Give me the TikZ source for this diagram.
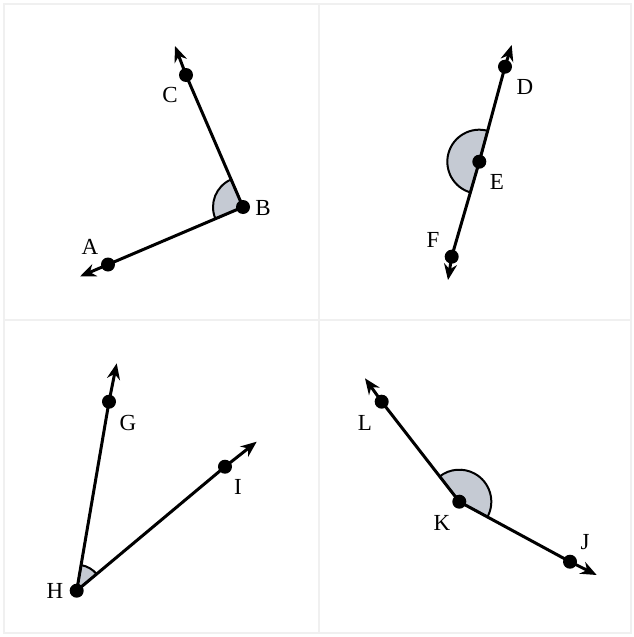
\documentclass[tikz,border=0pt]{standalone}
\usepackage{fontspec}
\setmainfont{Liberation Serif}
\usetikzlibrary{arrows.meta,calc}
\definecolor{anglefill}{HTML}{C5CAD3}
\definecolor{gridline}{HTML}{F0F0F0}
\begin{document}
\begin{tikzpicture}[x=1pt,y=-1pt,
  pt/.style={circle,fill=black,inner sep=0pt,minimum size=14pt},
  ray/.style={line width=3pt,-{Stealth[length=16pt,width=13pt]}},
  seg/.style={line width=3pt},
  ang/.style={fill=anglefill,draw=black,line width=2pt},
  lbl/.style={font=\fontsize{23}{26}\selectfont,inner sep=0pt},
  grid/.style={draw=gridline,line width=1.5pt}]
\useasboundingbox (0,0) rectangle (633,637);
% faint frame
\draw[grid] (4,4) rectangle (631,633);
\draw[grid] (319,4) -- (319,633);
\draw[grid] (4,320) -- (631,320);

% coordinates
\coordinate (A) at (108,264.5);
\coordinate (B) at (243,207);
\coordinate (C) at (186,75);
\coordinate (tA) at (80,276.5);
\coordinate (tC) at (175,46);

\coordinate (D) at (505,66.7);
\coordinate (E) at (479.3,161.7);
\coordinate (F) at (451.7,256.7);
\coordinate (tD) at (511.7,45);
\coordinate (tF) at (448,280);

\coordinate (G) at (109,401.7);
\coordinate (H) at (76.7,590.7);
\coordinate (I) at (225,466.7);
\coordinate (tG) at (116.7,363.3);
\coordinate (tI) at (256.7,441.7);

\coordinate (J) at (570,561.7);
\coordinate (K) at (459.3,501.7);
\coordinate (L) at (381.7,401.7);
\coordinate (tJ) at (596.7,575);
\coordinate (tL) at (365,378.3);

% angle sectors
\draw[ang] (B) -- ($(B)!30pt!(C)$) arc[start angle=113.4,end angle=203.1,radius=30pt] -- cycle;
\draw[ang] (E) -- ($(E)!32pt!(D)$) arc[start angle=74.9,end angle=253.8,radius=32pt] -- cycle;
\draw[ang] (H) -- ($(H)!26pt!(I)$) arc[start angle=39.9,end angle=80.3,radius=26pt] -- cycle;
\draw[ang] (K) -- ($(K)!32pt!(J)$) arc[start angle=-28.5,end angle=127.8,radius=32pt] -- cycle;

% rays
\draw[seg] (B) -- (A); \draw[ray] (A) -- (tA);
\draw[seg] (B) -- (C); \draw[ray] (C) -- (tC);
\draw[seg] (E) -- (D); \draw[ray] (D) -- (tD);
\draw[seg] (E) -- (F); \draw[ray] (F) -- (tF);
\draw[seg] (H) -- (G); \draw[ray] (G) -- (tG);
\draw[seg] (H) -- (I); \draw[ray] (I) -- (tI);
\draw[seg] (K) -- (J); \draw[ray] (J) -- (tJ);
\draw[seg] (K) -- (L); \draw[ray] (L) -- (tL);

% points
\foreach \p in {A,B,C,D,E,F,G,H,I,J,K,L} \node[pt] (n\p) at (\p) {};

% labels
\node[lbl] (lA) at (90,247) {A};
\node[lbl] (lB) at (263,208) {B};
\node[lbl] (lC) at (170,95) {C};
\node[lbl] (lD) at (525,87) {D};
\node[lbl] (lE) at (497,182) {E};
\node[lbl] (lF) at (433,240) {F};
\node[lbl] (lG) at (128,423) {G};
\node[lbl] (lH) at (55,591) {H};
\node[lbl] (lI) at (238,487) {I};
\node[lbl] (lJ) at (585,542) {J};
\node[lbl] (lK) at (442,523) {K};
\node[lbl] (lL) at (365,423) {L};
\end{tikzpicture}
\end{document}
